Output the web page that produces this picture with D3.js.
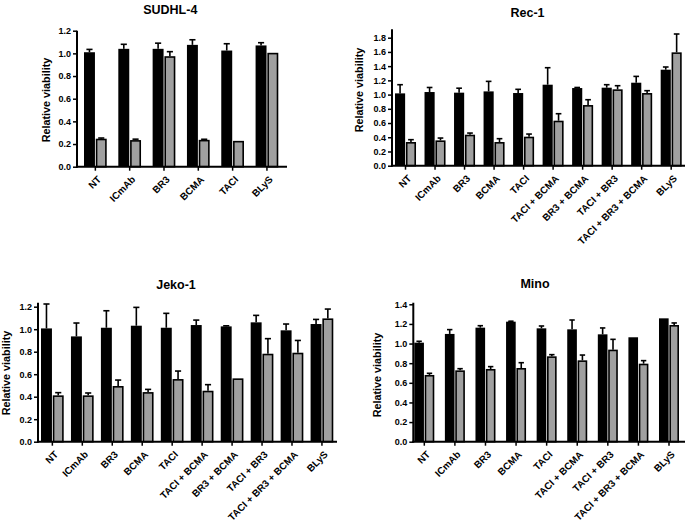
<!DOCTYPE html>
<html><head><meta charset="utf-8">
<script src="https://cdn.jsdelivr.net/npm/d3@7"></script>
<style>
body{margin:0;background:#fff}
svg{display:block;font-family:"Liberation Sans",Arial,Helvetica,sans-serif;font-weight:bold}
</style>
</head><body><svg id="c" width="689" height="527"></svg>
<script>
// ---------- DATA ----------
const sudhlCategories = ["NT","ICmAb","BR3","BCMA","TACI","BLyS"];
const sudhlBlack    = [1.010, 1.040, 1.040, 1.075, 1.025, 1.070];
const sudhlBlackErr = [0.025, 0.040, 0.050, 0.045, 0.060, 0.024];
const sudhlGrey     = [0.247, 0.235, 0.975, 0.237, 0.228, 1.005];
const sudhlGreyErr  = [0.006, 0.008, 0.040, 0.005, 0.004, 0.000];
const sudhlYTicks   = [0.0, 0.2, 0.4, 0.6, 0.8, 1.0, 1.2];

const rec1Categories = ["NT","ICmAb","BR3","BCMA","TACI","TACI + BCMA","BR3 + BCMA","TACI + BR3","TACI + BR3 + BCMA","BLyS"];
const rec1Black    = [1.017, 1.036, 1.027, 1.045, 1.022, 1.139, 1.092, 1.097, 1.167, 1.350];
const rec1BlackErr = [0.122, 0.064, 0.063, 0.141, 0.052, 0.239, 0.008, 0.042, 0.089, 0.038];
const rec1Grey     = [0.333, 0.356, 0.436, 0.333, 0.408, 0.633, 0.853, 1.074, 1.022, 1.594];
const rec1GreyErr  = [0.033, 0.033, 0.023, 0.047, 0.037, 0.098, 0.075, 0.051, 0.033, 0.258];
const rec1YTicks   = [0.0, 0.2, 0.4, 0.6, 0.8, 1.0, 1.2, 1.4, 1.6, 1.8];

const jekoCategories = ["NT","ICmAb","BR3","BCMA","TACI","TACI + BCMA","BR3 + BCMA","TACI + BR3","TACI + BR3 + BCMA","BLyS"];
const jekoBlack    = [1.007, 0.936, 1.013, 1.031, 1.013, 1.037, 1.025, 1.061, 0.990, 1.046];
const jekoBlackErr = [0.217, 0.119, 0.151, 0.163, 0.128, 0.044, 0.005, 0.062, 0.056, 0.041];
const jekoGrey     = [0.412, 0.412, 0.495, 0.441, 0.557, 0.453, 0.563, 0.782, 0.791, 1.096];
const jekoGreyErr  = [0.024, 0.021, 0.053, 0.024, 0.071, 0.054, 0.000, 0.134, 0.109, 0.083];
const jekoYTicks   = [0.0, 0.2, 0.4, 0.6, 0.8, 1.0, 1.2];

const minoCategories = ["NT","ICmAb","BR3","BCMA","TACI","TACI + BCMA","TACI + BR3","TACI + BR3 + BCMA","BLyS"];
const minoBlack    = [1.009, 1.098, 1.162, 1.223, 1.155, 1.145, 1.094, 1.064, 1.257];
const minoBlackErr = [0.014, 0.044, 0.020, 0.005, 0.024, 0.095, 0.065, 0.002, 0.003];
const minoGrey     = [0.680, 0.727, 0.741, 0.751, 0.870, 0.829, 0.938, 0.795, 1.189];
const minoGreyErr  = [0.017, 0.017, 0.024, 0.054, 0.017, 0.054, 0.105, 0.031, 0.021];
const minoYTicks   = [0.0, 0.2, 0.4, 0.6, 0.8, 1.0, 1.2, 1.4];

const yAxisTitle = "Relative viability";

// ---------- LAYOUT ----------
const panels = [
  {title:"SUDHL-4", cats:sudhlCategories, black:sudhlBlack, blackErr:sudhlBlackErr, grey:sudhlGrey, greyErr:sudhlGreyErr, ticks:sudhlYTicks,
   axisX0:77, axisX1:287, barX0:84, barX1:278.3, y0:166.7, yTopTick:30.7, axisTop:1.2, pad:0.338,
   titleX:170.3, titleY:13.5, yTitleX:50.3, yTitleY:100},
  {title:"Rec-1", cats:rec1Categories, black:rec1Black, blackErr:rec1BlackErr, grey:rec1Grey, greyErr:rec1GreyErr, ticks:rec1YTicks,
   axisX0:392, axisX1:685, barX0:395, barX1:681.7, y0:165.7, yTopTick:37.7, axisTop:1.92, pad:0.288,
   titleX:527.5, titleY:17.3, yTitleX:362.6, yTitleY:90},
  {title:"Jeko-1", cats:jekoCategories, black:jekoBlack, blackErr:jekoBlackErr, grey:jekoGrey, greyErr:jekoGreyErr, ticks:jekoYTicks,
   axisX0:38, axisX1:337, barX0:41, barX1:333.3, y0:441.7, yTopTick:306.7, axisTop:1.236, pad:0.242,
   titleX:176, titleY:289.3, yTitleX:10.3, yTitleY:373},
  {title:"Mino", cats:minoCategories, black:minoBlack, blackErr:minoBlackErr, grey:minoGrey, greyErr:minoGreyErr, ticks:minoYTicks,
   axisX0:413.3, axisX1:685, barX0:414.3, barX1:679, y0:441.7, yTopTick:304.3, axisTop:1.416, pad:0.346,
   titleX:535, titleY:288.3, yTitleX:381, yTitleY:375}
];

const svg = d3.select("#c");
const FONT = "Liberation Sans, Arial, sans-serif";

panels.forEach(p => {
  const g = svg.append("g");
  const tickMax = p.ticks[p.ticks.length - 1];
  const y = d3.scaleLinear().domain([0, tickMax]).range([p.y0, p.yTopTick]);
  const x = d3.scaleBand().domain(p.cats).range([p.barX0, p.barX1]).paddingInner(p.pad).paddingOuter(0);
  const sub = d3.scaleBand().domain(["black","grey"]).range([0, x.bandwidth()]).paddingInner(0.07);

  const rows = p.cats.map((c, i) => ({cat:c, black:p.black[i], blackErr:p.blackErr[i], grey:p.grey[i], greyErr:p.greyErr[i]}));

  const errs = [];
  rows.forEach(r => {
    errs.push({cat:r.cat, s:"black", v:r.black, e:r.blackErr});
    errs.push({cat:r.cat, s:"grey", v:r.grey, e:r.greyErr});
  });
  const eg = g.append("g").attr("stroke","#000").attr("stroke-width",1.6).attr("fill","none");
  errs.filter(d => d.e > 0.004).forEach(d => {
    const cx = x(d.cat) + sub(d.s) + sub.bandwidth()/2;
    const hw = sub.bandwidth() * 0.28;
    eg.append("line").attr("x1",cx).attr("x2",cx).attr("y1",y(d.v)).attr("y2",y(d.v + d.e));
    eg.append("line").attr("x1",cx-hw).attr("x2",cx+hw).attr("y1",y(d.v + d.e)).attr("y2",y(d.v + d.e));
  });

  g.append("g").selectAll("rect").data(rows).join("rect")
    .attr("x", d => x(d.cat) + sub("black"))
    .attr("width", sub.bandwidth())
    .attr("y", d => y(d.black))
    .attr("height", d => y(0) - y(d.black))
    .attr("fill","#000");
  g.append("g").selectAll("rect").data(rows).join("rect")
    .attr("x", d => x(d.cat) + sub("grey") + 0.8)
    .attr("width", sub.bandwidth() - 1.6)
    .attr("y", d => y(d.grey) + 0.8)
    .attr("height", d => y(0) - y(d.grey) - 0.8)
    .attr("fill","#a0a0a0").attr("stroke","#000").attr("stroke-width",1.6);

  const ya = g.append("g").attr("transform",`translate(${p.axisX0},0)`)
    .call(d3.axisLeft(y).tickValues(p.ticks).tickFormat(d3.format(".1f")).tickSize(4).tickPadding(2));
  ya.select(".domain").remove();
  ya.selectAll(".tick line").attr("stroke","#000").attr("stroke-width",1.5);
  ya.selectAll(".tick text").attr("font-size",9).attr("font-weight","bold").attr("font-family",FONT).attr("fill","#000");
  g.append("line").attr("x1",p.axisX0).attr("x2",p.axisX0).attr("y1",y(0)+1).attr("y2",y(p.axisTop))
    .attr("stroke","#000").attr("stroke-width",2);

  const xa = g.append("g").attr("transform",`translate(0,${p.y0})`)
    .call(d3.axisBottom(x).tickSize(4).tickSizeOuter(0));
  xa.select(".domain").remove();
  xa.selectAll(".tick line").attr("stroke","#000").attr("stroke-width",1.5);
  xa.selectAll(".tick text")
    .attr("font-size",9.8).attr("font-weight","bold").attr("font-family",FONT).attr("fill","#000")
    .attr("text-anchor","end").attr("x",0).attr("y",0).attr("dy","0.35em")
    .attr("transform","translate(4,11) rotate(-45)");
  g.append("line").attr("x1",p.axisX0-1).attr("x2",p.axisX1).attr("y1",p.y0).attr("y2",p.y0)
    .attr("stroke","#000").attr("stroke-width",2);

  g.append("text").attr("x",p.titleX).attr("y",p.titleY).attr("text-anchor","middle")
    .attr("font-size",12.5).text(p.title);
  g.append("text").attr("transform",`translate(${p.yTitleX},${p.yTitleY}) rotate(-90)`)
    .attr("text-anchor","middle").attr("font-size",10.8).text(yAxisTitle);
});
</script>
</body></html>
